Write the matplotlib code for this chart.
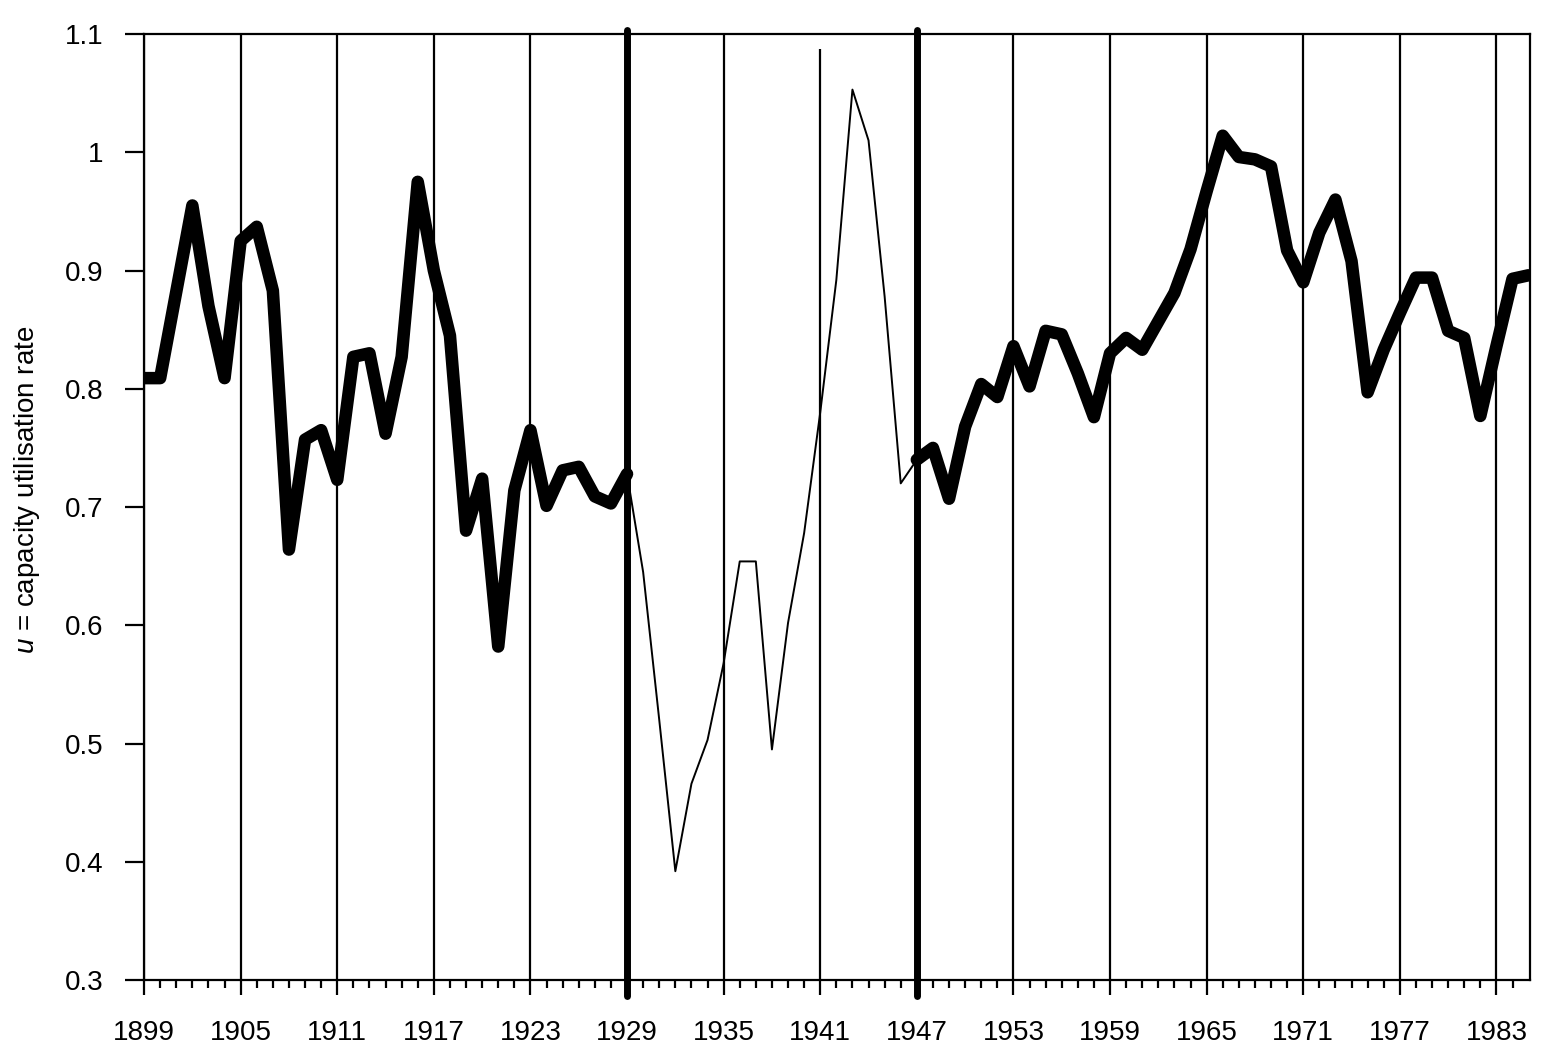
import matplotlib

matplotlib.use("Agg")

import matplotlib.pyplot as plt

plt.rcParams["font.family"] = ["Liberation Sans", "DejaVu Sans"]
plt.rcParams["mathtext.fontset"] = "custom"
plt.rcParams["mathtext.it"] = "Liberation Sans:italic"
plt.rcParams["mathtext.rm"] = "Liberation Sans"

# capacity utilisation rate, annual
years = list(range(1899, 1986))
u = [
    0.809, 0.809, 0.882, 0.955, 0.870, 0.809, 0.925, 0.937, 0.883, 0.664,  # 1899-1908
    0.757, 0.765, 0.723, 0.827, 0.830, 0.762, 0.827, 0.975, 0.900, 0.845,  # 1909-1918
    0.680, 0.724, 0.582, 0.714, 0.765, 0.701, 0.731, 0.734, 0.709, 0.703,  # 1919-1928
    0.728, 0.645, 0.520, 0.392, 0.466, 0.503, 0.568, 0.654, 0.654, 0.495,  # 1929-1938
    0.602, 0.678, 0.780, 0.892, 1.053, 1.010, 0.878, 0.720, 0.740, 0.750,  # 1939-1948
    0.707, 0.768, 0.804, 0.793, 0.836, 0.802, 0.849, 0.846, 0.813, 0.776,  # 1949-1958
    0.830, 0.843, 0.833, 0.857, 0.881, 0.918, 0.967, 1.014, 0.996, 0.994,  # 1959-1968
    0.988, 0.917, 0.890, 0.932, 0.960, 0.908, 0.797, 0.833, 0.864, 0.894,  # 1969-1978
    0.894, 0.849, 0.843, 0.777, 0.836, 0.893, 0.896,                       # 1979-1985
]
break_years = [1929, 1947]          # depression / war period drawn thin
tick_years = list(range(1899, 1984, 6))
y_ticks = [0.3, 0.4, 0.5, 0.6, 0.7, 0.8, 0.9, 1.0, 1.1]
y_labels = ["0.3", "0.4", "0.5", "0.6", "0.7", "0.8", "0.9", "1", "1.1"]

fig = plt.figure(figsize=(15.54, 10.53), dpi=100)
ax = fig.add_axes((0.0927, 0.0693, 0.892, 0.8984))

i0 = years.index(break_years[0])
i1 = years.index(break_years[1])

# vertical grid at labelled years
for yr in tick_years:
    if yr in break_years:
        continue
    top = 1.087 if yr == 1941 else 1.1
    ax.vlines(yr, 0.3, top, color="black", lw=1.6, zorder=1)
for yr in break_years:
    ax.axvline(yr, ymin=-0.017, ymax=1.004, color="black", lw=5,
               clip_on=False, zorder=3, solid_capstyle="round")

thick = dict(color="black", lw=9, solid_capstyle="round",
             solid_joinstyle="round", zorder=4)
ax.plot(years[:i0 + 1], u[:i0 + 1], **thick)
ax.plot(years[i1:], u[i1:], **thick)
ax.plot(years[i0:i1 + 1], u[i0:i1 + 1], color="black", lw=1.4, zorder=4)

ax.set_xlim(1899, 1985.1)
ax.set_ylim(0.3, 1.1)

ax.set_xticks(tick_years)
ax.set_xticklabels([str(y) for y in tick_years], fontsize=20)
ax.set_xticks(years[:-1], minor=True)
ax.set_yticks(y_ticks)
ax.set_yticklabels(y_labels, fontsize=20)

ax.tick_params(axis="x", which="major", direction="out", length=11,
               width=1.6, pad=18, colors="black")
ax.tick_params(axis="x", which="minor", direction="out", length=6,
               width=1.6)
ax.tick_params(axis="y", which="major", direction="out", length=13.5,
               width=1.6, pad=16)

for side in ("left", "right", "top", "bottom"):
    ax.spines[side].set_linewidth(1.6)
    ax.spines[side].set_color("black")

fig.text(0.0175, 0.535, r"$u$ = capacity utilisation rate", rotation=90,
         ha="center", va="center", fontsize=20)

fig.savefig("out.png", dpi=100, facecolor="white")
plt.close(fig)
